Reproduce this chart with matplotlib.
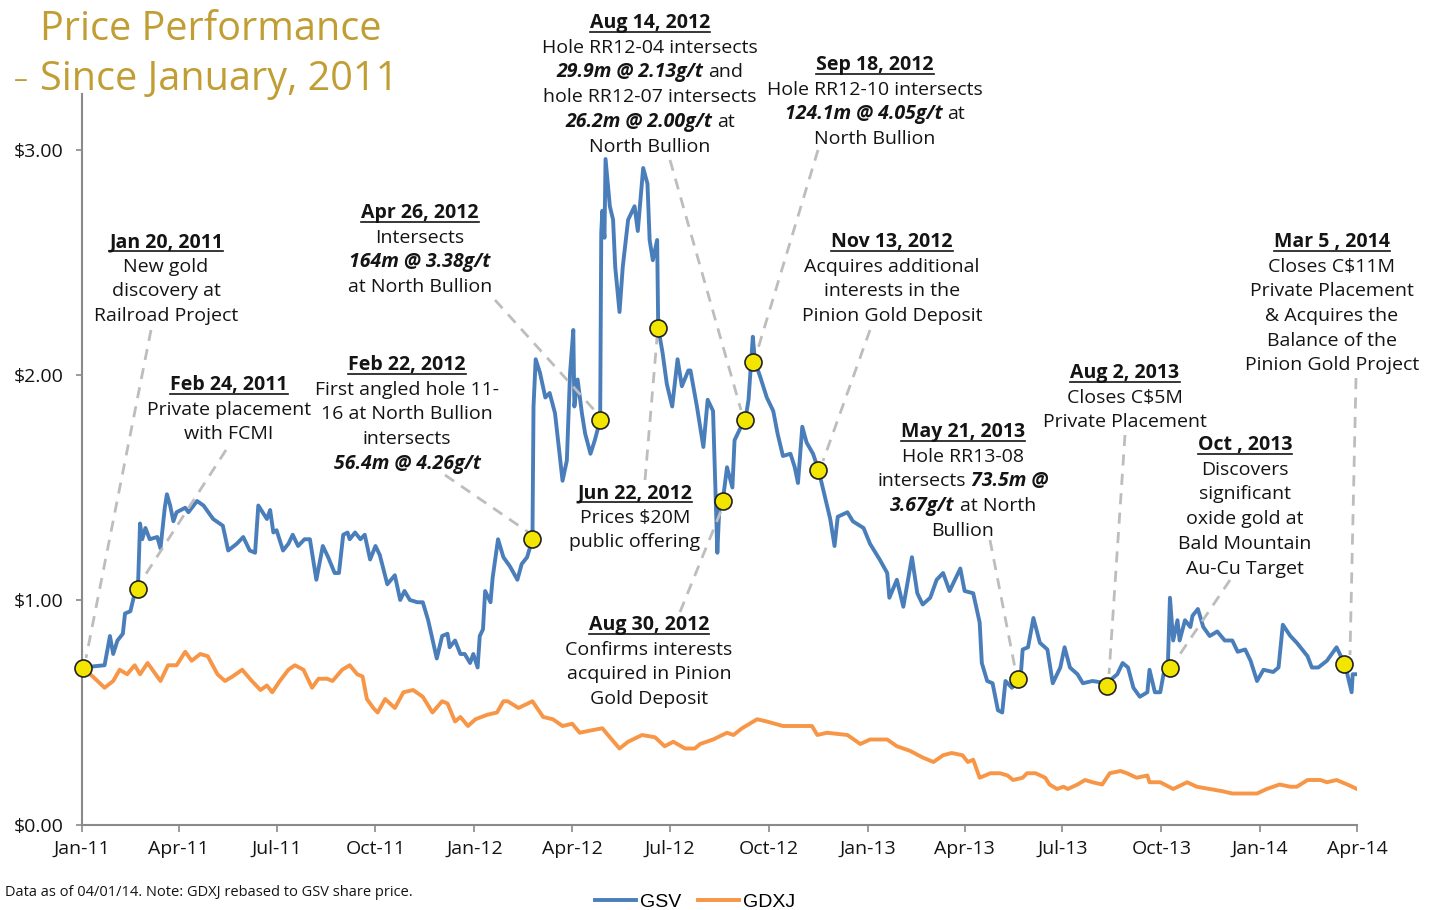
import numpy as np
import pandas as pd
import matplotlib
matplotlib.use('Agg')
import matplotlib.pyplot as plt
from matplotlib.lines import Line2D
from matplotlib.transforms import IdentityTransform

# ---- data ----
start = pd.Timestamp('2011-01-01')

# GSV share price: days since 1 Jan 2011, price in $
gsv_day = [0, 21, 26, 29, 33, 38, 40, 45, 49, 52, 54, 56, 59, 63, 70, 73, 77, 79, 82, 85,
           88, 96, 99, 107, 113, 122, 131, 136, 144, 150, 156, 161, 164, 168, 172, 175, 178, 181, 187, 192,
           196, 201, 207, 212, 218, 224, 229, 235, 239, 243, 247, 249, 254, 259, 263, 268, 273, 277, 284, 291,
           296, 300, 305, 312, 317, 322, 330, 335, 340, 342, 347, 352, 356, 361, 364, 368, 370, 373, 375, 380,
           382, 387, 392, 398, 405, 409, 414, 419, 420, 422, 426, 431, 435, 440, 447, 451, 454, 457, 458, 461,
           465, 468, 473, 477, 482, 483, 484, 486, 487, 491, 494, 496, 500, 503, 508, 514, 517, 522, 526, 528,
           531, 535, 536, 540, 544, 549, 554, 558, 564, 566, 572, 578, 582, 587, 591, 593, 596, 600, 605, 607,
           612, 617, 620, 624, 626, 631, 637, 643, 647, 652, 659, 663, 666, 670, 674, 680, 685, 689, 696, 700,
           703, 712, 717, 727, 733, 742, 749, 751, 758, 764, 772, 777, 782, 789, 795, 801, 807, 812, 817, 821,
           829, 835, 837, 842, 847, 852, 856, 859, 865, 873, 875, 880, 885, 891, 898, 903, 910, 914, 919, 926,
           931, 940, 953, 963, 968, 973, 978, 984, 991, 993, 998, 1003, 1006, 1010, 1012, 1015, 1019, 1021, 1026, 1031,
           1033, 1038, 1043, 1049, 1056, 1063, 1070, 1075, 1082, 1087, 1093, 1099, 1108, 1113, 1117, 1124, 1130, 1135, 1140, 1144,
           1150, 1158, 1167, 1175, 1181, 1182, 1187]
gsv_price = [0.70, 0.71, 0.84, 0.76, 0.82, 0.85, 0.94, 0.95, 1.03, 1.05, 1.34, 1.27, 1.32, 1.27, 1.28, 1.23, 1.41, 1.47, 1.42, 1.35,
             1.39, 1.41, 1.39, 1.44, 1.42, 1.36, 1.33, 1.22, 1.25, 1.28, 1.22, 1.21, 1.42, 1.39, 1.36, 1.40, 1.30, 1.31, 1.22, 1.25,
             1.29, 1.24, 1.27, 1.27, 1.09, 1.24, 1.19, 1.12, 1.12, 1.29, 1.30, 1.27, 1.30, 1.27, 1.29, 1.18, 1.24, 1.20, 1.07, 1.11,
             1.00, 1.04, 1.00, 0.99, 0.99, 0.91, 0.74, 0.84, 0.85, 0.79, 0.82, 0.76, 0.76, 0.72, 0.76, 0.70, 0.84, 0.87, 1.04, 0.99,
             1.10, 1.27, 1.19, 1.15, 1.09, 1.16, 1.19, 1.27, 1.86, 2.07, 2.01, 1.90, 1.92, 1.83, 1.53, 1.62, 2.01, 2.20, 1.86, 1.98,
             1.83, 1.74, 1.65, 1.71, 1.80, 2.63, 2.73, 2.61, 2.96, 2.75, 2.69, 2.48, 2.28, 2.48, 2.69, 2.75, 2.64, 2.92, 2.85, 2.60,
             2.51, 2.60, 2.21, 2.10, 1.96, 1.86, 2.07, 1.95, 2.02, 2.02, 1.86, 1.68, 1.89, 1.84, 1.21, 1.43, 1.44, 1.59, 1.50, 1.71,
             1.76, 1.80, 1.89, 2.17, 2.06, 1.99, 1.90, 1.84, 1.74, 1.64, 1.65, 1.59, 1.52, 1.77, 1.70, 1.65, 1.58, 1.50, 1.36, 1.24,
             1.37, 1.39, 1.35, 1.32, 1.25, 1.18, 1.12, 1.01, 1.09, 0.97, 1.19, 1.03, 0.98, 1.01, 1.09, 1.12, 1.04, 1.09, 1.14, 1.04,
             1.03, 0.90, 0.72, 0.64, 0.63, 0.51, 0.50, 0.64, 0.61, 0.65, 0.78, 0.79, 0.92, 0.81, 0.78, 0.63, 0.70, 0.79, 0.70, 0.67,
             0.63, 0.64, 0.63, 0.67, 0.72, 0.70, 0.61, 0.57, 0.59, 0.69, 0.59, 0.59, 0.67, 0.70, 1.01, 0.82, 0.91, 0.82, 0.91, 0.88,
             0.93, 0.96, 0.88, 0.84, 0.86, 0.82, 0.82, 0.77, 0.78, 0.73, 0.64, 0.69, 0.68, 0.70, 0.89, 0.84, 0.81, 0.78, 0.75, 0.70,
             0.70, 0.73, 0.79, 0.71, 0.59, 0.67, 0.67]

# GDXJ rebased to GSV
gdxj_day = [0, 10, 21, 29, 35, 42, 49, 54, 61, 73, 80, 88, 96, 102, 110, 117, 126, 133, 140, 149,
            158, 166, 172, 177, 184, 192, 198, 206, 214, 220, 228, 233, 242, 249, 256, 261, 265, 271, 275, 282,
            291, 299, 308, 317, 326, 335, 340, 347, 352, 359, 366, 377, 386, 392, 396, 406, 419, 429, 438, 447,
            456, 463, 473, 484, 491, 500, 508, 521, 533, 542, 550, 561, 570, 575, 587, 600, 606, 614, 628, 637,
            652, 668, 679, 684, 693, 712, 724, 733, 749, 758, 770, 782, 792, 801, 809, 819, 824, 829, 835, 845,
            854, 861, 866, 875, 879, 887, 896, 900, 907, 913, 917, 926, 933, 940, 949, 956, 966, 972, 981, 991,
            993, 1003, 1015, 1028, 1037, 1049, 1061, 1070, 1080, 1093, 1102, 1114, 1124, 1130, 1140, 1152, 1158, 1167, 1177, 1186]
gdxj_price = [0.70, 0.66, 0.61, 0.64, 0.69, 0.67, 0.71, 0.67, 0.72, 0.64, 0.71, 0.71, 0.77, 0.73, 0.76, 0.75, 0.67, 0.64, 0.66, 0.69,
              0.64, 0.60, 0.62, 0.59, 0.64, 0.69, 0.71, 0.69, 0.61, 0.65, 0.65, 0.64, 0.69, 0.71, 0.67, 0.66, 0.56, 0.52, 0.50, 0.56,
              0.52, 0.59, 0.60, 0.57, 0.50, 0.55, 0.54, 0.46, 0.48, 0.44, 0.47, 0.49, 0.50, 0.55, 0.55, 0.52, 0.55, 0.48, 0.47, 0.44,
              0.45, 0.41, 0.42, 0.43, 0.39, 0.34, 0.37, 0.40, 0.39, 0.35, 0.37, 0.34, 0.34, 0.36, 0.38, 0.41, 0.40, 0.43, 0.47, 0.46,
              0.44, 0.44, 0.44, 0.40, 0.41, 0.40, 0.36, 0.38, 0.38, 0.35, 0.33, 0.30, 0.28, 0.31, 0.32, 0.31, 0.28, 0.29, 0.21, 0.23,
              0.23, 0.22, 0.20, 0.21, 0.23, 0.23, 0.21, 0.18, 0.16, 0.17, 0.16, 0.18, 0.20, 0.19, 0.18, 0.23, 0.24, 0.23, 0.21, 0.22,
              0.19, 0.19, 0.16, 0.19, 0.17, 0.16, 0.15, 0.14, 0.14, 0.14, 0.16, 0.18, 0.17, 0.17, 0.20, 0.20, 0.19, 0.20, 0.18, 0.16]

# event markers (days since 1 Jan 2011, price)
event_day = [1, 52, 419, 482, 536, 596, 617, 624, 685, 871, 953, 1012, 1174]
event_price = [0.70, 1.05, 1.27, 1.80, 2.21, 1.44, 1.80, 2.06, 1.58, 0.65, 0.62, 0.70, 0.715]

ytick_vals = [0, 1, 2, 3]
ytick_labels = ['$0.00', '$1.00', '$2.00', '$3.00']
series_names = ['GSV', 'GDXJ']

# ---- layout / style ----
W, H = 1439, 910
BLUE = '#4A7EBB'
ORANGE = '#F79646'
GOLD = '#C19E34'
TXT = '#141414'
FONT = 'Open Sans'
FS = 14

def fx(x):
    return x / W

def fy(y):
    return 1 - y / H

fig = plt.figure(figsize=(W / 100, H / 100), dpi=100)
ax = fig.add_axes([fx(82), fy(825), (1357 - 82) / W, (825 - 93.75) / H])

gsv_dates = start + pd.to_timedelta(gsv_day, unit='D')
gdxj_dates = start + pd.to_timedelta(gdxj_day, unit='D')
ev_dates = start + pd.to_timedelta(event_day, unit='D')

ax.plot(gdxj_dates, gdxj_price, color=ORANGE, lw=2.8, zorder=2)
ax.plot(gsv_dates, gsv_price, color=BLUE, lw=2.8, zorder=3)
ax.scatter(ev_dates, event_price, s=150, color='#F2E600', edgecolor='#222222',
           linewidth=1.2, zorder=6, clip_on=False)

tick_dates = pd.date_range('2011-01-01', '2014-04-01', freq='QS')
ax.set_xlim(tick_dates[0], tick_dates[-1])
ax.set_xticks(tick_dates)
ax.set_xticklabels([d.strftime('%b-%y') for d in tick_dates])
ax.set_ylim(0, 3.25)
ax.set_yticks(ytick_vals)
ax.set_yticklabels(ytick_labels)

for s in ['top', 'right']:
    ax.spines[s].set_visible(False)
for s in ['left', 'bottom']:
    ax.spines[s].set_color('#8a8a8a')
    ax.spines[s].set_linewidth(1.5)
ax.tick_params(axis='x', length=5, width=1.2, color='#8a8a8a', pad=6)
ax.tick_params(axis='y', length=4, width=1.2, color='#8a8a8a', pad=9)
for lab in ax.get_xticklabels() + ax.get_yticklabels():
    lab.set_fontfamily(FONT)
    lab.set_fontsize(14)
    lab.set_color(TXT)

# title
fig.text(fx(40), fy(30), 'Price Performance', fontsize=28.5, family=FONT, color=GOLD, va='center')
fig.text(fx(14), fy(80), '–', fontsize=20, family=FONT, color=GOLD, va='center')
fig.text(fx(40), fy(80), 'Since January, 2011', fontsize=28.5, family=FONT, color=GOLD, va='center')

# footer
fig.text(fx(5), fy(892), 'Data as of 04/01/14. Note: GDXJ rebased to GSV share price.',
         fontsize=10.5, family=FONT, color=TXT, va='center')
fig.legend(handles=[Line2D([], [], color=BLUE, lw=2.8), Line2D([], [], color=ORANGE, lw=2.8)],
           labels=series_names, loc='center left', bbox_to_anchor=(fx(595), fy(902)), ncol=2,
           frameon=False, prop={'family': 'Liberation Sans', 'size': 14}, handlelength=2.1,
           handletextpad=0.2, columnspacing=0.9, borderaxespad=0, borderpad=0)

# event notes: centre x, first line y (pixels), lines
B = 'b'
notes = [
    (166, 242, ['Jan 20, 2011', 'New gold', 'discovery at', 'Railroad Project']),
    (229, 385, ['Feb 24, 2011', 'Private placement', 'with FCMI']),
    (420, 213, ['Apr 26, 2012', 'Intersects', [('164m @ 3.38g/t', B)], 'at North Bullion']),
    (407, 365, ['Feb 22, 2012', 'First angled hole 11-', '16 at North Bullion', 'intersects',
                [('56.4m @ 4.26g/t', B)]]),
    (650, 23, ['Aug 14, 2012', 'Hole RR12-04 intersects', [('29.9m @ 2.13g/t', B), ('and', 'r')],
               'hole RR12-07 intersects', [('26.2m @ 2.00g/t', B), ('at', 'r')], 'North Bullion']),
    (875, 65, ['Sep 18, 2012', 'Hole RR12-10 intersects', [('124.1m @ 4.05g/t', B), ('at', 'r')],
               'North Bullion']),
    (892, 242, ['Nov 13, 2012', 'Acquires additional', 'interests in the', 'Pinion Gold Deposit']),
    (635, 493, ['Jun 22, 2012', 'Prices $20M', 'public offering']),
    (649, 625, ['Aug 30, 2012', 'Confirms interests', 'acquired in Pinion', 'Gold Deposit']),
    (963, 432, ['May 21, 2013', 'Hole RR13-08', [('intersects', 'r'), ('73.5m @', B)],
                [('3.67g/t', B), ('at North', 'r')], 'Bullion']),
    (1125, 373, ['Aug 2, 2013', 'Closes C$5M', 'Private Placement']),
    (1245, 445, ['Oct , 2013', 'Discovers', 'significant', 'oxide gold at', 'Bald Mountain',
                 'Au-Cu Target']),
    (1332, 242, ['Mar 5 , 2014', 'Closes C$11M', 'Private Placement', '& Acquires the',
                 'Balance of the', 'Pinion Gold Project']),
]

# dashed leader lines (pixels): from note to marker
leaders = [
    ((151, 330), (86, 658)),
    ((226, 450), (142, 580)),
    ((495, 300), (596, 412)),
    ((445, 475), (528, 532)),
    ((670, 160), (741, 410)),
    ((818, 150), (757, 352)),
    ((870, 330), (823, 461)),
    ((645, 480), (657, 338)),
    ((680, 612), (721, 511)),
    ((990, 540), (1015, 668)),
    ((1125, 435), (1109, 674)),
    ((1230, 580), (1176, 660)),
    ((1356, 378), (1350, 655)),
]
for (x0, y0), (x1, y1) in leaders:
    ax.plot([fx(x0), fx(x1)], [fy(y0), fy(y1)], transform=fig.transFigure, clip_on=False,
            color='#bdbdbd', lw=2, dashes=(4, 3), zorder=4)

renderer = fig.canvas.get_renderer()
styles = {'r': {}, 'b': dict(fontweight='bold', fontstyle='italic'), 'h': dict(fontweight='bold')}

def measure(s, st):
    t = fig.text(0, 0, s, fontsize=FS, family=FONT, **styles[st])
    w = t.get_window_extent(renderer).width
    t.remove()
    return w

space = measure('a a', 'r') - measure('aa', 'r')
LS = 24.7

for cx, y, lines in notes:
    for i, line in enumerate(lines):
        if i == 0:
            segs = [(line, 'h')]
        elif isinstance(line, str):
            segs = [(line, 'r')]
        else:
            segs = line
        widths = [measure(s, st) for s, st in segs]
        total = sum(widths) + space * (len(segs) - 1)
        x = cx - total / 2
        for (s, st), w in zip(segs, widths):
            t = fig.text(fx(x), fy(y + i * LS), s, fontsize=FS, family=FONT, color=TXT,
                         ha='left', va='center', **styles[st])
            if st == 'h':
                bb = t.get_window_extent(renderer)
                fig.add_artist(Line2D([bb.x0, bb.x1], [bb.y0 + 1, bb.y0 + 1],
                                      transform=IdentityTransform(), color=TXT, lw=1.2))
            x += w + space

fig.savefig('out.png', dpi=100)
